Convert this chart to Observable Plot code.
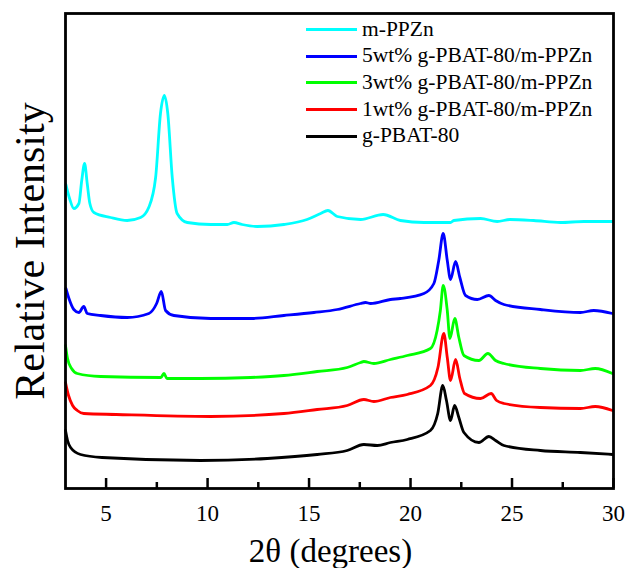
<!DOCTYPE html>
<html><head><meta charset="utf-8">
<script src="https://cdn.jsdelivr.net/npm/d3@7"></script>
<script src="https://cdn.jsdelivr.net/npm/@observablehq/plot@0.6"></script>
<style>
body{margin:0;background:#fff;}
#wrap{position:relative;width:627px;height:568px;font-family:"Liberation Serif","Times New Roman",serif;}
#legend{position:absolute;left:306px;top:16px;}
.row{display:flex;align-items:center;height:26.7px;}
.sw{width:51px;height:3px;margin-right:5px;}
.lab{font-size:21.5px;color:#000;line-height:1;white-space:nowrap;}
</style></head><body><div id="wrap"><div id="legend"></div></div>
<script>
const seriesNames = ["m-PPZn","5wt% g-PBAT-80/m-PPZn","3wt% g-PBAT-80/m-PPZn","1wt% g-PBAT-80/m-PPZn","g-PBAT-80"];
const seriesColors = ["#00FFFF","#0000FF","#00FF00","#FF0000","#000000"];
const xLabel = "2θ (degrees)";
const yLabel = "Relative Intensity";
const xTicksMajor = [5,10,15,20,25,30];
const xTicksMinor = [7.5,12.5,17.5,22.5,27.5];

// [2θ, relative intensity (offset, arbitrary units)]
const mPPZn = [[3.02,304],[3.2,290],[3.41,280],[3.66,285],[3.8,308],[3.94,325],[4.07,305],[4.2,285],[4.4,276],[5.22,271],[6.04,268],[6.7,271],[7.1,281],[7.44,311],[7.68,375],[7.87,393],[8.04,375],[8.26,311],[8.5,275],[9.0,266],[10.15,264],[10.97,264],[11.3,266],[11.7,264],[12.45,262],[13.76,264],[14.9,269],[15.57,275],[15.93,278],[16.39,272],[17.54,269],[18.65,274],[19.5,268],[20.66,266],[21.97,266],[22.13,268],[23.45,270],[24.27,267],[24.9,269],[26.07,268],[27.39,266],[28.54,267],[29.95,267]];
const pbat5 = [[3.02,200],[3.17,190],[3.41,179],[3.66,176],[3.9,182],[4.07,175],[4.73,173],[6.04,171],[7.11,175],[7.49,185],[7.72,197],[7.93,178],[8.34,173],[10.15,170],[12.12,170],[13.76,173],[15.24,176],[16.39,179],[17.54,185],[17.78,186],[18.03,185],[19.01,189],[19.5,190],[20.66,195],[21.15,205],[21.39,228],[21.61,255],[21.81,228],[21.97,209],[22.22,227],[22.43,211],[22.71,193],[23.29,189],[23.86,193],[24.19,188],[24.6,184],[26.4,179],[28.37,176],[29.03,178],[29.95,175]];
const pbat3 = [[3.0,143],[3.1,130],[3.3,120],[3.58,115],[4.73,112],[7.7,111],[7.85,115],[8.0,110],[9.65,110],[12.12,111],[13.76,113],[15.4,117],[16.88,121],[17.54,126],[17.7,127],[18.19,125],[19.01,129],[19.84,133],[20.98,140],[21.31,158],[21.47,178],[21.61,203],[21.81,178],[21.94,150],[22.18,170],[22.38,151],[22.63,133],[23.37,128],[23.81,135],[24.19,128],[24.6,125],[26.4,120],[28.37,118],[29.1,120],[29.95,115]];
const pbat1 = [[3.0,106],[3.15,93],[3.35,83],[3.58,78],[3.9,75],[5.5,74],[10.15,72],[13.76,75],[15.4,79],[16.88,83],[17.7,89],[18.19,87],[19.01,91],[19.84,94],[20.98,103],[21.35,121],[21.64,155],[21.81,131],[21.97,108],[22.22,129],[22.43,110],[22.66,95],[23.45,90],[23.97,95],[24.24,88],[24.6,85],[26.4,81],[28.37,80],[29.1,82],[29.95,78]];
const gPBAT80 = [[3.0,58],[3.1,48],[3.25,41],[3.74,34],[4.8,31],[9.65,28],[12.94,30],[15.4,34],[16.88,38],[17.7,44],[18.36,43],[19.01,46],[19.84,49],[20.98,58],[21.34,75],[21.59,103],[21.77,88],[21.97,68],[22.17,83],[22.38,71],[22.63,56],[23.37,46],[23.86,52],[24.19,48],[24.6,43],[26.4,38],[28.37,36],[29.95,34]];

const seriesData = [mPPZn, pbat5, pbat3, pbat1, gPBAT80];

const font = '"Liberation Serif","Times New Roman",serif';
const lineMarks = seriesData.map((d, i) => Plot.line(d, {
  x: p => p[0], y: p => p[1], stroke: seriesColors[i], strokeWidth: 2.8, curve: "monotone-x"
})).reverse();

const plotH = 568, mTop = 13, mBottom = 80;
const frameH = plotH - mTop - mBottom;

const chart = Plot.plot({
  width: 627, height: plotH,
  marginLeft: 65, marginRight: 14, marginTop: mTop, marginBottom: mBottom,
  style: {fontFamily: font, background: "#fff", color: "#000"},
  x: {domain: [3, 30], axis: null},
  y: {domain: [0, 475], axis: null},
  marks: [
    ...lineMarks,
    Plot.tickX(xTicksMajor, {x: d => d, insetTop: frameH - 10, stroke: "#000", strokeWidth: 2.5}),
    Plot.tickX(xTicksMinor, {x: d => d, insetTop: frameH - 6, stroke: "#000", strokeWidth: 2.5}),
    Plot.axisX({ticks: xTicksMajor, tickSize: 0, tickPadding: 16, fontSize: 23, label: null, tickFormat: d => String(d)}),
    Plot.text([xLabel], {frameAnchor: "bottom", lineAnchor: "middle", textAnchor: "middle", dy: 63, dx: -9, fontSize: 33, fill: "#000"}),
    Plot.text([yLabel], {frameAnchor: "left", lineAnchor: "middle", textAnchor: "middle", dx: -35, rotate: -90, fontSize: 42, fill: "#000"}),
    Plot.frame({stroke: "#000", strokeWidth: 2.8})
  ]
});
document.getElementById("wrap").prepend(chart);

const legend = document.getElementById("legend");
seriesNames.forEach((name, i) => {
  const row = document.createElement("div"); row.className = "row";
  const sw = document.createElement("div"); sw.className = "sw"; sw.style.background = seriesColors[i];
  const lab = document.createElement("span"); lab.className = "lab"; lab.textContent = name;
  row.appendChild(sw); row.appendChild(lab); legend.appendChild(row);
});
</script></body></html>
